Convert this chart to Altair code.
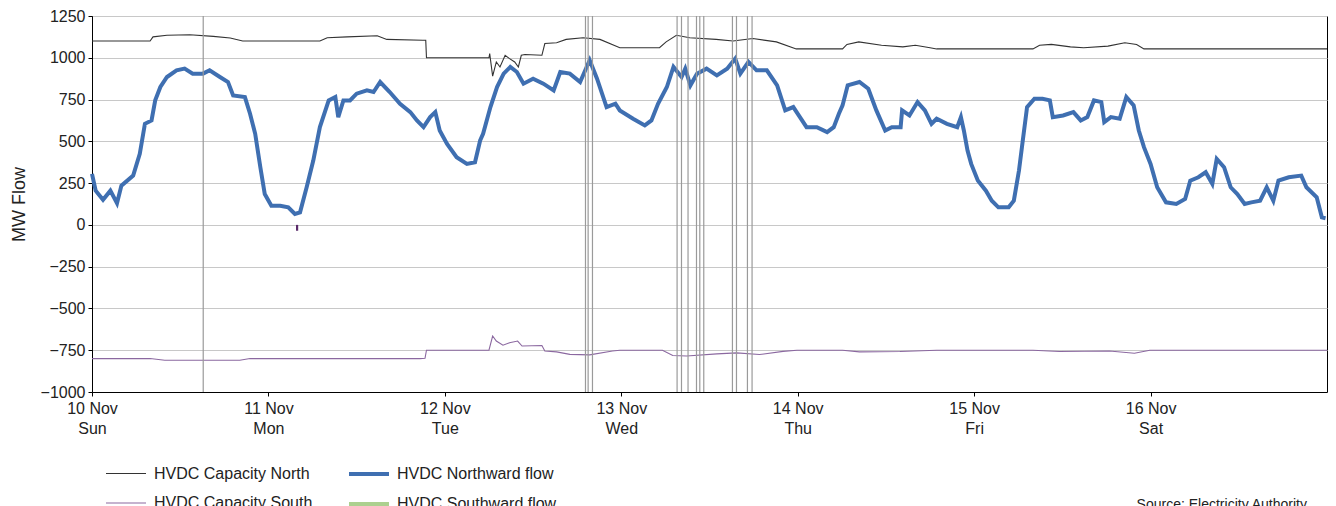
import altair as alt
import pandas as pd

BASE = pd.Timestamp("2019-11-10")

# Northward flow (hours since 10 Nov 00:00, MW)
flow_hours = [0.0, 0.5, 1.5, 2.5, 3.4, 4.0, 5.6, 6.5, 7.2, 8.1, 8.6, 9.3, 10.2, 11.5, 12.6, 13.7, 15.1, 16.0,
              17.4, 18.5, 19.2, 20.8, 21.5, 22.2, 22.9, 23.5, 24.4, 25.6, 26.7, 27.6, 28.3, 29.2, 30.1, 31.0,
              32.2, 33.1, 33.5, 34.2, 35.1, 36.0, 37.4, 38.3, 39.2, 40.5, 41.9, 43.3, 44.2, 45.1, 46.0, 46.7,
              47.3, 48.3, 49.6, 51.0, 52.1, 52.8, 53.2, 54.2, 55.1, 56.0, 56.9, 57.8, 58.7, 60.0, 61.4, 62.8,
              63.7, 65.0, 66.4, 67.7, 68.7, 70.0, 71.2, 71.8, 73.6, 75.2, 76.1, 77.0, 78.2, 79.1, 80.2, 80.7,
              81.4, 82.3, 83.6, 85.0, 86.4, 87.5, 88.2, 89.3, 90.4, 91.8, 93.2, 94.3, 95.4, 96.3, 97.2, 98.6,
              100.0, 100.9, 101.6, 102.1, 102.8, 104.4, 105.6, 106.7, 107.9, 108.8, 110.0, 110.2, 111.2, 112.3,
              113.3, 114.2, 114.9, 116.3, 117.7, 118.2, 118.6, 119.1, 119.6, 120.5, 121.6, 122.4, 123.3, 124.7,
              125.4, 126.1, 126.5, 127.2, 128.2, 129.3, 130.3, 130.7, 132.1, 133.5, 134.5, 135.4, 136.3, 137.3,
              137.7, 138.6, 139.8, 140.7, 141.7, 142.4, 143.1, 144.0, 144.9, 146.1, 147.5, 148.7, 149.4, 150.5,
              151.5, 152.4, 153.0, 154.0, 154.9, 155.8, 156.8, 157.7, 158.9, 159.8, 160.7, 161.4, 162.8, 164.5,
              165.2, 166.6, 167.3, 167.8]
flow_values = [305, 205, 150, 205, 130, 235, 295, 425, 605, 625, 745, 825, 885, 925, 935, 905, 905, 925,
               885, 855, 775, 765, 665, 545, 345, 185, 115, 115, 105, 65, 75, 225, 385, 585,
               745, 765, 645, 745, 745, 785, 805, 795, 855, 795, 725, 675, 625, 585, 645, 675,
               565, 485, 405, 365, 375, 505, 545, 705, 825, 905, 945, 915, 845, 875, 845, 805,
               915, 905, 855, 985, 875, 705, 725, 685, 635, 595, 625, 725, 825, 945, 885, 935,
               835, 905, 935, 895, 935, 995, 905, 975, 925, 925, 835, 685, 705, 645, 585, 585,
               555, 585, 665, 715, 835, 855, 815, 685, 565, 585, 585, 685, 655, 735,
               685, 605, 635, 605, 585, 645, 565, 445, 365, 265, 205, 145, 105, 105,
               145, 325, 465, 705, 755, 755, 745, 645, 655, 675, 625, 645, 745, 735,
               615, 645, 635, 765, 715, 565, 465, 365, 225, 135, 125, 155, 265, 285,
               315, 245, 395, 345, 225, 185, 125, 135, 145, 225, 145, 265, 285, 295,
               225, 165, 45, 40]

# HVDC capacity north
capn_hours = [0.0, 7.9, 8.3, 10.2, 13.3, 16.5, 18.8, 20.5, 31.0, 32.0, 34.7, 38.8, 40.1, 45.0, 45.4, 45.5,
              54.0, 54.1, 54.5, 55.0, 55.5, 56.2, 56.8, 57.5, 58.0, 58.4, 58.9, 61.2, 61.6, 63.2, 64.5, 66.8,
              69.1, 71.8, 77.2, 78.1, 79.5, 81.3, 84.9, 87.2, 89.9, 93.1, 95.8, 102.1, 102.7, 104.3, 107.4,
              110.3, 112.0, 114.0, 114.9, 128.0, 128.9, 130.5, 133.1, 134.9, 138.2, 140.5, 142.1, 143.1, 168.0]
capn_values = [1100, 1100, 1125, 1135, 1138, 1128, 1118, 1100, 1100, 1120, 1125, 1132, 1110, 1105, 1105, 1000,
               1000, 1025, 890, 975, 945, 1015, 995, 975, 945, 1015, 1020, 1015, 1085, 1090, 1110, 1120,
               1110, 1060, 1060, 1095, 1135, 1120, 1110, 1100, 1115, 1095, 1053, 1053, 1080, 1095, 1075,
               1065, 1075, 1060, 1053, 1053, 1075, 1080, 1065, 1060, 1070, 1090, 1080, 1053, 1053]

# HVDC capacity south
caps_hours = [0.0, 7.9, 9.9, 20.1, 21.5, 44.6, 45.3, 45.5, 54.0, 54.5, 55.0, 55.9, 56.8, 57.9, 58.5, 61.2,
              61.6, 63.2, 65.0, 67.7, 70.8, 71.8, 77.6, 79.0, 80.9, 85.0, 87.7, 90.8, 94.0, 95.9, 102.1,
              104.4, 109.9, 114.9, 128.0, 131.6, 138.4, 141.8, 143.9, 168.0]
caps_values = [-800, -800, -810, -810, -800, -800, -798, -750, -750, -665, -695, -720, -705, -695, -725, -722,
               -755, -760, -775, -778, -755, -750, -750, -782, -785, -772, -766, -776, -757, -750, -750,
               -760, -758, -750, -750, -758, -755, -768, -750, -750]

# Short negative excursion on 11 Nov
spike_hours = [27.9, 27.9]
spike_values = [0, -35]

# Vertical event markers (hours)
event_hours = [15.13, 67.13, 67.49, 68.08, 79.59, 80.19, 81.08, 82.23, 82.68, 83.22, 87.12, 87.67, 89.16, 89.79]

series_names = ["HVDC Capacity North", "HVDC Northward flow", "HVDC Capacity South", "HVDC Southward flow"]
series_colors = ["#333333", "#3f6fb1", "#8b68a0", "#acd08f"]
series_widths = [1.1, 4, 1.1, 4]

tick_days = [10, 11, 12, 13, 14, 15, 16]
y_ticks = [-1000, -750, -500, -250, 0, 250, 500, 750, 1000, 1250]
source_text = "Source: Electricity Authority"


def ts(hours):
    return [(BASE + pd.Timedelta(hours=h)).strftime("%Y-%m-%dT%H:%M:%S") for h in hours]


lines_df = pd.concat([
    pd.DataFrame({"time": ts(capn_hours), "value": capn_values, "series": "HVDC Capacity North"}),
    pd.DataFrame({"time": ts(caps_hours), "value": caps_values, "series": "HVDC Capacity South"}),
    pd.DataFrame({"time": ts(flow_hours), "value": flow_values, "series": "HVDC Northward flow"}),
], ignore_index=True)
spike_df = pd.DataFrame({"time": ts(spike_hours), "value": spike_values})
event_df = pd.DataFrame({"time": ts(event_hours)})
source_df = pd.DataFrame({"t": [source_text]})

x_enc = alt.X(
    "time:T",
    scale=alt.Scale(domain=[alt.DateTime(year=2019, month=11, date=10),
                            alt.DateTime(year=2019, month=11, date=17)]),
    axis=alt.Axis(
        values=[alt.DateTime(year=2019, month=11, date=d) for d in tick_days],
        labelExpr="[timeFormat(datum.value, '%-d %b'), timeFormat(datum.value, '%a')]",
        title=None, grid=False, tickSize=4, labelPadding=4, labelFontSize=16,
        labelLineHeight=20, labelFlush=False, labelOverlap=False, labelColor="#222",
        tickColor="#000", domainColor="#000",
    ),
)
y_enc = alt.Y(
    "value:Q",
    scale=alt.Scale(domain=[-1000, 1250], nice=False, zero=False),
    axis=alt.Axis(
        values=y_ticks, format="d", title="MW Flow", titleFontSize=18, titleFontWeight="normal",
        titlePadding=12, titleColor="#222", labelFontSize=16, labelColor="#222", tickSize=4,
        labelPadding=3, grid=True, gridColor="#c8c8c8", gridWidth=1, tickColor="#000", domainColor="#000",
    ),
)

legend = alt.Legend(title=None, orient="none", direction="horizontal", legendX=12, legendY=436, columns=2,
                    symbolType="stroke", symbolSize=1600, labelFontSize=16, labelOffset=6, columnPadding=28,
                    rowPadding=-21, padding=0, labelColor="#222", values=series_names)

lines = alt.Chart(lines_df).mark_line().encode(
    x=x_enc, y=y_enc,
    color=alt.Color("series:N", scale=alt.Scale(domain=series_names, range=series_colors), legend=legend),
    strokeWidth=alt.StrokeWidth("series:N",
                                scale=alt.Scale(type="ordinal", domain=series_names, range=series_widths),
                                legend=legend),
)

spike = alt.Chart(spike_df).mark_line(color="#5a2a6a", strokeWidth=2.2).encode(x="time:T", y="value:Q")

events = alt.Chart(event_df).mark_rule(color="#9a9a9a", strokeWidth=1.2).encode(x="time:T")

source = alt.Chart(source_df).mark_text(align="right", baseline="alphabetic", fontSize=14,
                                        color="#222", font="Liberation Sans").encode(
    text="t:N", x=alt.value(1215), y=alt.value(493))

chart = alt.layer(lines, spike, events, source).properties(
    width=1235, height=376,
    autosize=alt.AutoSizeParams(type="none"),
    padding={"left": 84, "top": 8, "right": 1, "bottom": 125},
).configure(font="Liberation Sans").configure_view(stroke="#000", strokeWidth=1)

chart.save("out.html", embed_options={"renderer": "svg", "actions": False})
